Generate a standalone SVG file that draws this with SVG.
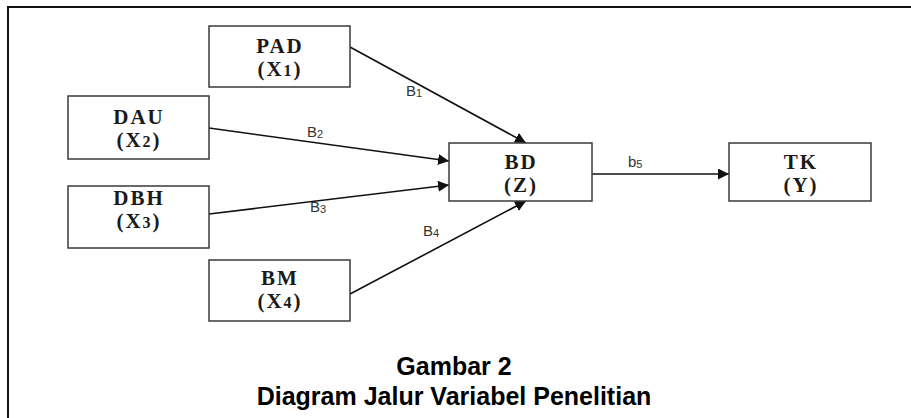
<svg xmlns="http://www.w3.org/2000/svg" width="911" height="418" viewBox="0 0 911 418">
<defs>
<style>
.box{fill:#fff;stroke:#3a3a3a;stroke-width:1.5}
.nt{font-family:"Liberation Serif","Times New Roman",serif;font-weight:bold;font-size:21px;fill:#1a1a1a;text-anchor:middle;letter-spacing:2px}
.sub{font-size:16px}
.edge{stroke:#111;stroke-width:1.6;fill:none;marker-end:url(#ah)}
.lbl{font-family:"Liberation Sans",Arial,sans-serif;font-size:15px;fill:#333}
.ls{font-size:11px}
.cap{font-family:"Liberation Sans",Arial,sans-serif;font-weight:bold;font-size:25px;fill:#000;text-anchor:middle}
</style>
<marker id="ah" viewBox="0 0 10 10" refX="10" refY="5" markerWidth="11" markerHeight="11" markerUnits="userSpaceOnUse" orient="auto">
<path d="M0,0 L10,5 L0,10 z" fill="#111"/>
</marker>
</defs>
<rect width="911" height="418" fill="#fff"/>
<path d="M8,418 V7 H911" fill="none" stroke="#111" stroke-width="2"/>
<g id="connectors">
<line class="edge" x1="350" y1="47" x2="526" y2="143"/>
<line class="edge" x1="209" y1="128" x2="449" y2="161"/>
<line class="edge" x1="209" y1="214" x2="449" y2="185"/>
<line class="edge" x1="350" y1="294" x2="526" y2="201"/>
<line class="edge" x1="592" y1="174" x2="729" y2="174"/>
<text class="lbl" x="406" y="96">B<tspan class="ls" dy="1">1</tspan></text>
<text class="lbl" x="307" y="137">B<tspan class="ls" dy="1">2</tspan></text>
<text class="lbl" x="310" y="212">B<tspan class="ls" dy="1">3</tspan></text>
<text class="lbl" x="423" y="236">B<tspan class="ls" dy="1">4</tspan></text>
<text class="lbl" x="628" y="167">b<tspan class="ls" dy="1">5</tspan></text>
</g>
<g id="PAD">
<rect class="box" x="209" y="26" width="141" height="61"/>
<text class="nt" x="280" y="53">PAD</text>
<text class="nt" x="280" y="76">(X<tspan class="sub">1</tspan>)</text>
</g>
<g id="DAU">
<rect class="box" x="68" y="96" width="141" height="63"/>
<text class="nt" x="139" y="124">DAU</text>
<text class="nt" x="139" y="147">(X<tspan class="sub">2</tspan>)</text>
</g>
<g id="DBH">
<rect class="box" x="68" y="186" width="141" height="62"/>
<text class="nt" x="139" y="205">DBH</text>
<text class="nt" x="139" y="228">(X<tspan class="sub">3</tspan>)</text>
</g>
<g id="BM">
<rect class="box" x="209" y="260" width="141" height="61"/>
<text class="nt" x="280" y="285">BM</text>
<text class="nt" x="280" y="308">(X<tspan class="sub">4</tspan>)</text>
</g>
<g id="BD">
<rect class="box" x="449" y="143" width="143" height="58"/>
<text class="nt" x="521" y="169">BD</text>
<text class="nt" x="521" y="192">(Z)</text>
</g>
<g id="TK">
<rect class="box" x="729" y="143" width="142" height="58"/>
<text class="nt" x="801" y="169">TK</text>
<text class="nt" x="801" y="192">(Y)</text>
</g>
<g id="caption">
<text class="cap" x="454" y="375">Gambar 2</text>
<text class="cap" x="454" y="405">Diagram Jalur Variabel Penelitian</text>
</g>
</svg>
